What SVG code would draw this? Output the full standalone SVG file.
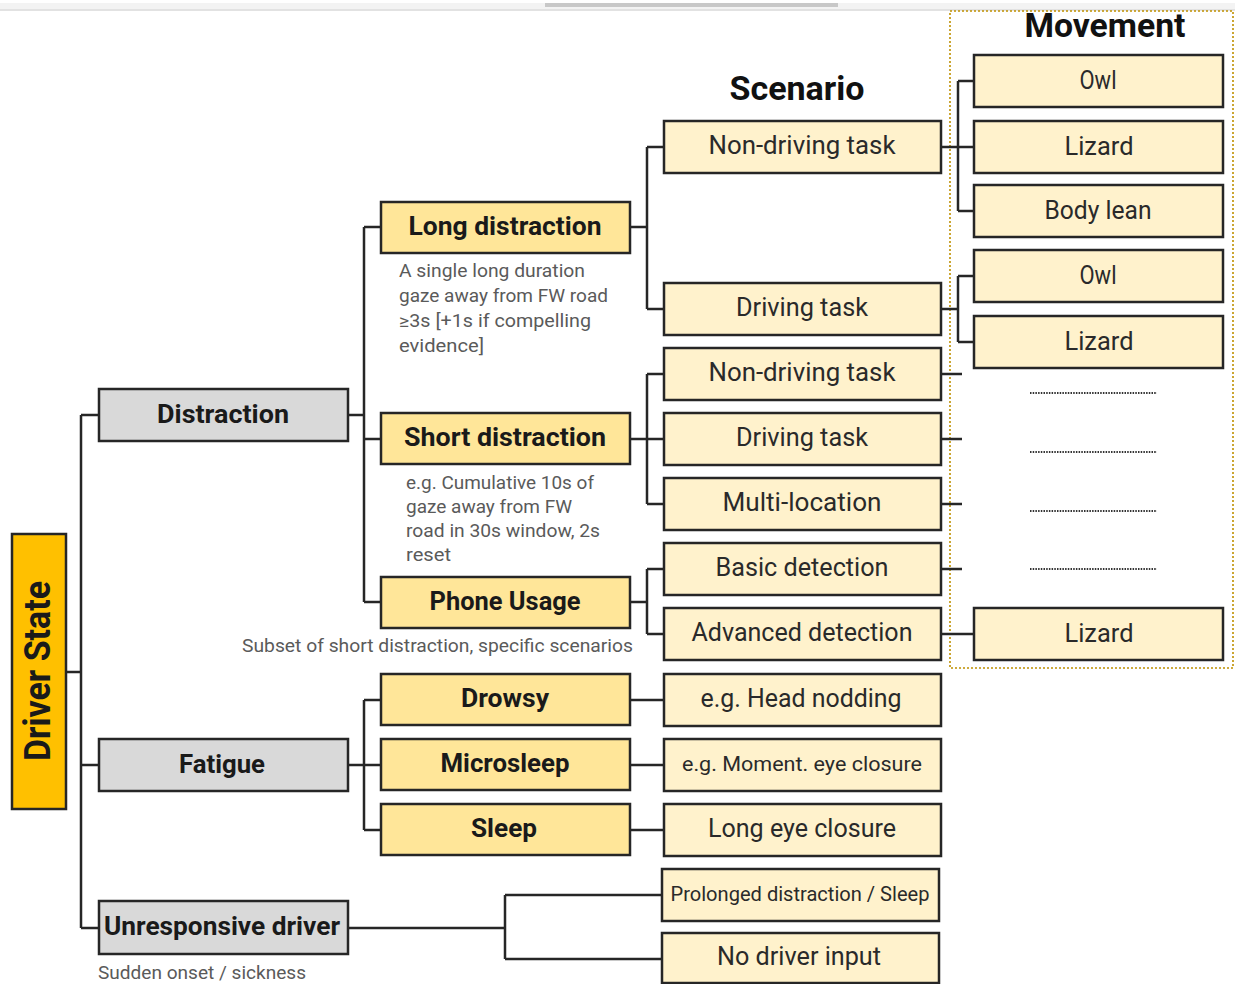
<svg xmlns="http://www.w3.org/2000/svg" width="1235" height="984" viewBox="0 0 1235 984">
<style>
.bx{stroke:#262626;stroke-width:2.5}
.ds{fill:#FFC000}.l1{fill:#D9D9D9}.l2{fill:#FFE699}.l3{fill:#FFF2CC}
text{font-family:Roboto,"Liberation Sans",sans-serif}
.b{font-weight:700;font-size:25px;fill:#1a1a1a;text-anchor:middle}
.r{font-weight:400;font-size:25px;fill:#2a2a2a;text-anchor:middle}
.s{font-size:20px}
.cap{font-weight:400;font-size:18px;fill:#5a5a5a}
.hd{font-weight:700;font-size:33px;fill:#111;text-anchor:middle}
#connectors path{fill:none;stroke:#262626;stroke-width:2.5}
.dots{fill:none;stroke:#333;stroke-width:2;stroke-dasharray:1.5 1.2}
</style>
<rect x="0" y="3" width="1235" height="7" fill="#f3f3f3"/>
<rect x="0" y="9" width="1235" height="2" fill="#e2e2e2"/>
<rect x="545" y="3" width="293" height="4" fill="#c8c8c8"/>
<rect x="950" y="11" width="283" height="657" fill="none" stroke="#BF9000" stroke-width="1.6" stroke-dasharray="2 2"/>
<text class="hd" x="797" y="100" textLength="135" lengthAdjust="spacingAndGlyphs">Scenario</text>
<text class="hd" x="1105" y="37" textLength="161" lengthAdjust="spacingAndGlyphs">Movement</text>
<g id="connectors">
<path d="M66,672H81M81,415V928M81,415H99M81,765H99M81,928H99"/>
<path d="M348,415H364M364,227V602M364,227H381M364,439H381M364,602H381"/>
<path d="M630,227H647M647,147V309M647,147H664M647,309H664"/>
<path d="M630,439H647M647,374V504M647,374H664M647,439H664M647,504H664"/>
<path d="M630,602H647M647,569V634M647,569H664M647,634H664"/>
<path d="M348,765H364M364,700V830M364,700H381M364,765H381M364,830H381"/>
<path d="M630,700H664M630,765H664M630,830H664"/>
<path d="M348,928H505M505,895V959M505,895H662M505,959H662"/>
<path d="M941,147H958M958,81V211M958,81H974M958,147H974M958,211H974"/>
<path d="M941,309H958M958,276V342M958,276H974M958,342H974"/>
<path d="M941,374H962M941,439H962M941,504H962M941,569H962"/>
<path d="M941,634H974"/>
</g>
<g id="placeholders">
<path class="dots" d="M1030,393H1157M1030,452H1157M1030,511H1157M1030,569H1157"/>
</g>
<g id="driver-state"><rect class="bx ds" x="12" y="534" width="54" height="275" stroke-width="3"/><text class="b" transform="translate(50,671) rotate(-90)" style="font-size:37px" textLength="180" lengthAdjust="spacingAndGlyphs">Driver State</text></g>
<g id="distraction"><rect class="bx l1" x="99" y="389" width="249" height="52"/><text class="b" x="223" y="423" textLength="132" lengthAdjust="spacingAndGlyphs">Distraction</text></g>
<g id="fatigue"><rect class="bx l1" x="99" y="739" width="249" height="52"/><text class="b" x="222" y="773" textLength="86" lengthAdjust="spacingAndGlyphs">Fatigue</text></g>
<g id="unresponsive"><rect class="bx l1" x="99" y="901" width="249" height="53"/><text class="b" x="222" y="935" textLength="236" lengthAdjust="spacingAndGlyphs">Unresponsive driver</text><text class="cap" x="98" y="979" textLength="208" lengthAdjust="spacingAndGlyphs">Sudden onset / sickness</text></g>
<g id="long-distraction"><rect class="bx l2" x="381" y="202" width="249" height="51"/><text class="b" x="505" y="235" textLength="193" lengthAdjust="spacingAndGlyphs">Long distraction</text>
<text class="cap" x="399" y="277" textLength="186" lengthAdjust="spacingAndGlyphs">A single long duration</text>
<text class="cap" x="399" y="302" textLength="209" lengthAdjust="spacingAndGlyphs">gaze away from FW road</text>
<text class="cap" x="399" y="327" textLength="192" lengthAdjust="spacingAndGlyphs">≥3s [+1s if compelling</text>
<text class="cap" x="399" y="352" textLength="85" lengthAdjust="spacingAndGlyphs">evidence]</text></g>
<g id="short-distraction"><rect class="bx l2" x="381" y="413" width="249" height="51"/><text class="b" x="505" y="446" textLength="202" lengthAdjust="spacingAndGlyphs">Short distraction</text>
<text class="cap" x="406" y="489" textLength="188" lengthAdjust="spacingAndGlyphs">e.g. Cumulative 10s of</text>
<text class="cap" x="406" y="513" textLength="166" lengthAdjust="spacingAndGlyphs">gaze away from FW</text>
<text class="cap" x="406" y="537" textLength="194" lengthAdjust="spacingAndGlyphs">road in 30s window, 2s</text>
<text class="cap" x="406" y="561" textLength="45" lengthAdjust="spacingAndGlyphs">reset</text></g>
<g id="phone-usage"><rect class="bx l2" x="381" y="577" width="249" height="51"/><text class="b" x="505" y="610" textLength="151" lengthAdjust="spacingAndGlyphs">Phone Usage</text>
<text class="cap" x="242" y="652" style="font-size:19px" textLength="391" lengthAdjust="spacingAndGlyphs">Subset of short distraction, specific scenarios</text></g>
<g id="drowsy"><rect class="bx l2" x="381" y="674" width="249" height="51"/><text class="b" x="505" y="707" textLength="88" lengthAdjust="spacingAndGlyphs">Drowsy</text></g>
<g id="microsleep"><rect class="bx l2" x="381" y="739" width="249" height="51"/><text class="b" x="505" y="772" textLength="129" lengthAdjust="spacingAndGlyphs">Microsleep</text></g>
<g id="sleep"><rect class="bx l2" x="381" y="804" width="249" height="51"/><text class="b" x="504" y="837" textLength="66" lengthAdjust="spacingAndGlyphs">Sleep</text></g>
<g id="ld-nondriving"><rect class="bx l3" x="664" y="121" width="277" height="52"/><text class="r" x="802" y="154" textLength="187" lengthAdjust="spacingAndGlyphs">Non-driving task</text></g>
<g id="ld-driving"><rect class="bx l3" x="664" y="283" width="277" height="52"/><text class="r" x="802" y="316" textLength="132" lengthAdjust="spacingAndGlyphs">Driving task</text></g>
<g id="sd-nondriving"><rect class="bx l3" x="664" y="348" width="277" height="52"/><text class="r" x="802" y="381" textLength="187" lengthAdjust="spacingAndGlyphs">Non-driving task</text></g>
<g id="sd-driving"><rect class="bx l3" x="664" y="413" width="277" height="52"/><text class="r" x="802" y="446" textLength="132" lengthAdjust="spacingAndGlyphs">Driving task</text></g>
<g id="multi-location"><rect class="bx l3" x="664" y="478" width="277" height="52"/><text class="r" x="802" y="511" textLength="159" lengthAdjust="spacingAndGlyphs">Multi-location</text></g>
<g id="basic-detection"><rect class="bx l3" x="664" y="543" width="277" height="52"/><text class="r" x="802" y="576" textLength="173" lengthAdjust="spacingAndGlyphs">Basic detection</text></g>
<g id="advanced-detection"><rect class="bx l3" x="664" y="608" width="277" height="52"/><text class="r" x="802" y="641" textLength="221" lengthAdjust="spacingAndGlyphs">Advanced detection</text></g>
<g id="head-nodding"><rect class="bx l3" x="664" y="674" width="277" height="52"/><text class="r" x="801" y="707" textLength="201" lengthAdjust="spacingAndGlyphs">e.g. Head nodding</text></g>
<g id="eye-closure-moment"><rect class="bx l3" x="664" y="739" width="277" height="52"/><text class="r s" x="802" y="771" textLength="240" lengthAdjust="spacingAndGlyphs">e.g. Moment. eye closure</text></g>
<g id="long-eye-closure"><rect class="bx l3" x="664" y="804" width="277" height="52"/><text class="r" x="802" y="837" textLength="188" lengthAdjust="spacingAndGlyphs">Long eye closure</text></g>
<g id="prolonged"><rect class="bx l3" x="662" y="869" width="277" height="52"/><text class="r s" x="800" y="901" textLength="259" lengthAdjust="spacingAndGlyphs">Prolonged distraction / Sleep</text></g>
<g id="no-driver-input"><rect class="bx l3" x="662" y="933" width="277" height="50"/><text class="r" x="799" y="965" textLength="164" lengthAdjust="spacingAndGlyphs">No driver input</text></g>
<g id="mv-owl-1"><rect class="bx l3" x="974" y="55" width="249" height="52"/><text class="r" x="1098" y="89" textLength="37" lengthAdjust="spacingAndGlyphs">Owl</text></g>
<g id="mv-lizard-1"><rect class="bx l3" x="974" y="121" width="249" height="52"/><text class="r" x="1099" y="155" textLength="69" lengthAdjust="spacingAndGlyphs">Lizard</text></g>
<g id="mv-bodylean"><rect class="bx l3" x="974" y="185" width="249" height="52"/><text class="r" x="1098" y="219" textLength="107" lengthAdjust="spacingAndGlyphs">Body lean</text></g>
<g id="mv-owl-2"><rect class="bx l3" x="974" y="250" width="249" height="52"/><text class="r" x="1098" y="284" textLength="37" lengthAdjust="spacingAndGlyphs">Owl</text></g>
<g id="mv-lizard-2"><rect class="bx l3" x="974" y="316" width="249" height="52"/><text class="r" x="1099" y="350" textLength="69" lengthAdjust="spacingAndGlyphs">Lizard</text></g>
<g id="mv-lizard-3"><rect class="bx l3" x="974" y="608" width="249" height="52"/><text class="r" x="1099" y="642" textLength="69" lengthAdjust="spacingAndGlyphs">Lizard</text></g>
</svg>
